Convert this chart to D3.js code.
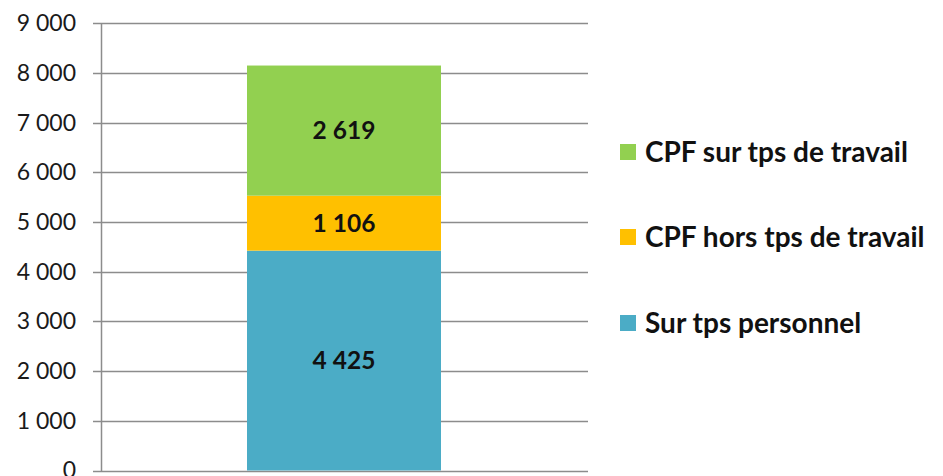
<!DOCTYPE html>
<html>
<head>
<meta charset="utf-8">
<script src="https://cdn.jsdelivr.net/npm/d3@7"></script>
<style>
  body { margin: 0; background: #fff; }
  text { font-family: Lato, "Open Sans", sans-serif; }
</style>
</head>
<body>
<script>
// stacked from bottom to top
var series = ["Sur tps personnel", "CPF hors tps de travail", "CPF sur tps de travail"];
var values = [4425, 1106, 2619];
var colors = ["#4BACC6", "#FFC000", "#92D050"];
var valueLabels = ["4 425", "1 106", "2 619"];
var tickValues = [0, 1000, 2000, 3000, 4000, 5000, 6000, 7000, 8000, 9000];
var tickLabels = ["0", "1 000", "2 000", "3 000", "4 000", "5 000", "6 000", "7 000", "8 000", "9 000"];
// legend order top to bottom
var legendOrder = [2, 1, 0];

var w = 943, h = 476;

var svg = d3.select("body").append("svg")
    .attr("width", w)
    .attr("height", h);

var yScale = d3.scaleLinear().domain([0, 9000]).range([470.5, 23.3]);

// gridlines
svg.append("g").selectAll("line")
    .data(tickValues)
    .enter().append("line")
    .attr("x1", 93)
    .attr("x2", 588)
    .attr("y1", function(d) { return Math.round(yScale(d)) + 0.5; })
    .attr("y2", function(d) { return Math.round(yScale(d)) + 0.5; })
    .attr("stroke", "#8c8c8c")
    .attr("stroke-width", 1.5);

// y axis
var yAxis = d3.axisLeft(yScale)
    .tickValues(tickValues)
    .tickFormat(function(d, i) { return tickLabels[i]; })
    .tickSize(0)
    .tickPadding(25);

var gy = svg.append("g").attr("transform", "translate(101,0)").call(yAxis);
gy.select(".domain").attr("stroke", "#8c8c8c").attr("stroke-width", 1.5);
gy.selectAll("text")
    .attr("font-size", 23)
    .attr("fill", "#1a1a1a")
    .style("font-family", "Lato, sans-serif");

// stacked segments
var stack = [];
var acc = 0;
values.forEach(function(v, i) {
    stack.push({y0: acc, y1: acc + v, color: colors[i], label: valueLabels[i]});
    acc += v;
});

var bx = 247, bw = 194;

svg.append("g").selectAll("rect")
    .data(stack)
    .enter().append("rect")
    .attr("x", bx)
    .attr("width", bw)
    .attr("y", function(d) { return yScale(d.y1); })
    .attr("height", function(d) { return yScale(d.y0) - yScale(d.y1); })
    .attr("fill", function(d) { return d.color; });

svg.append("g").selectAll("text")
    .data(stack)
    .enter().append("text")
    .attr("x", bx + bw / 2)
    .attr("y", function(d) { return (yScale(d.y0) + yScale(d.y1)) / 2; })
    .attr("dy", "0.35em")
    .attr("text-anchor", "middle")
    .attr("font-size", 24.5)
    .attr("font-weight", "bold")
    .attr("fill", "#111")
    .text(function(d) { return d.label; });

// legend
var legendY = [152, 237, 323];
var legend = svg.append("g").selectAll("g")
    .data(legendOrder)
    .enter().append("g")
    .attr("transform", function(d, i) { return "translate(620," + legendY[i] + ")"; });

legend.append("rect")
    .attr("x", 0)
    .attr("y", -8)
    .attr("width", 16)
    .attr("height", 16)
    .attr("fill", function(d) { return colors[d]; });

legend.append("text")
    .attr("x", 25)
    .attr("dy", "0.35em")
    .attr("font-size", 28)
    .attr("font-weight", "bold")
    .attr("fill", "#111")
    .text(function(d) { return series[d]; });
</script>
</body>
</html>
